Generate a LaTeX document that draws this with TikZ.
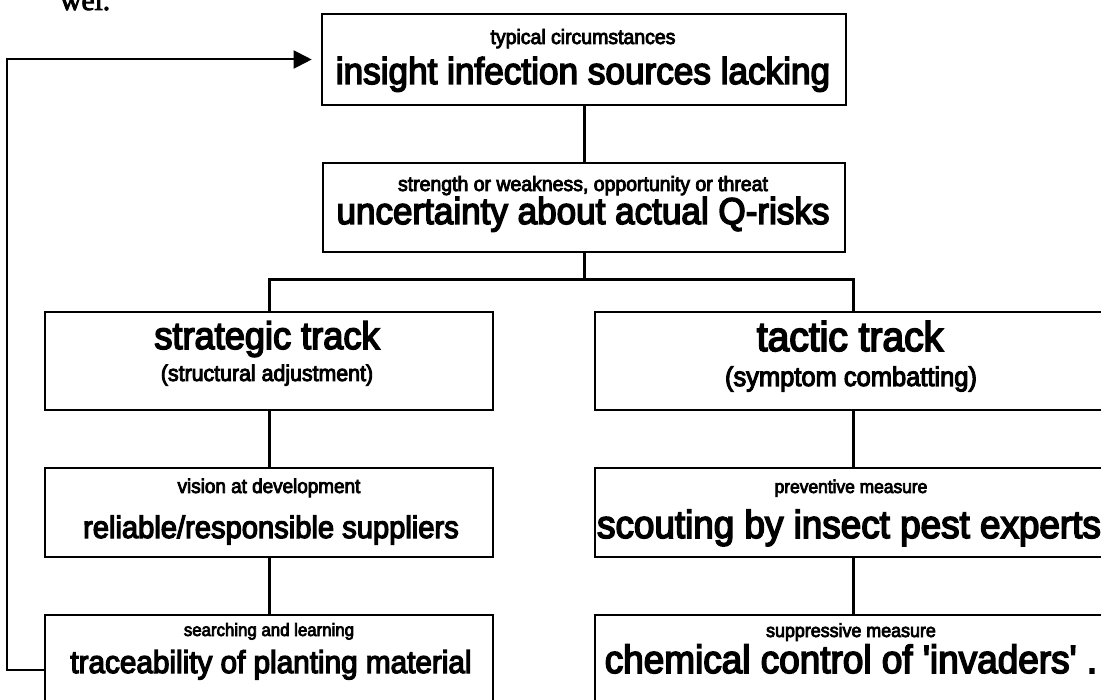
\documentclass[tikz,border=0pt]{standalone}
\usepackage{fontspec}
\setmainfont{Liberation Sans}
\newfontfamily\arfont{Liberation Sans}[FakeBold=4, FakeStretch=0.94]
\newfontfamily\serfont{Liberation Serif}[FakeBold=3]
\usetikzlibrary{arrows.meta}
\begin{document}
\begin{tikzpicture}[x=1pt,y=-1pt,
  box/.style={draw, line width=2.6pt, inner sep=0pt, minimum height=89pt},
  link/.style={line width=3pt},
  fb/.style={line width=2pt, -{Triangle[length=18pt,width=18pt]}, shorten >=9pt},
  txt/.style={anchor=base, inner sep=0pt, font=\arfont\fontsize{#1}{#1}\selectfont}]
\useasboundingbox (0,0) rectangle (1101,700);
\clip (0,0) rectangle (1101,700);
\fill[white] (0,0) rectangle (1101,700);
\node[anchor=base west, inner sep=0pt, font=\serfont\fontsize{29.5}{30}\selectfont] (wel) at (60,10) {wel.};

% boxes
\node[box, minimum width=524pt, minimum height=91pt] (top) at (584,59.5) {};
\node[box, minimum width=522pt] (mid) at (584,207.5) {};
\node[box, minimum width=448pt, minimum height=98pt] (strat) at (269,361) {};
\node[box, minimum width=516pt, minimum height=98pt] (tact) at (853,361) {};
\node[box, minimum width=448pt] (rel) at (269,512.5) {};
\node[box, minimum width=516pt] (scout) at (853,512.5) {};
\node[box, minimum width=448pt] (trace) at (269,659.5) {};
\node[box, minimum width=516pt] (chem) at (853,659.5) {};

% texts
\node[txt=20.7] (topS) at (583,44) {typical circumstances};
\node[txt=37.4] (topM) at (583,84) {insight infection sources lacking};
\node[txt=20.7] (midS) at (583,191) {strength or weakness, opportunity or threat};
\node[txt=37.3] (midM) at (583,224) {uncertainty about actual Q-risks};
\node[txt=38.5] (stratM) at (267,349) {strategic track};
\node[txt=22.7] (stratS) at (267,381) {(structural adjustment)};
\node[txt=41.5] (tactM) at (850,351) {tactic track};
\node[txt=27.1] (tactS) at (851,386) {(symptom combatting)};
\node[txt=20.1] (relS) at (269,493) {vision at development};
\node[txt=31] (relM) at (271,538) {reliable/responsible suppliers};
\node[txt=18.5] (scoutS) at (851,493) {preventive measure};
\node[txt=39.2] (scoutM) at (849,538) {scouting by insect pest experts};
\node[txt=17.9] (traceS) at (269,636) {searching and learning};
\node[txt=31.6] (traceM) at (271,673) {traceability of planting material};
\node[txt=19] (chemS) at (851,637) {suppressive measure};
\node[txt=39.3] (chemM) at (851,673) {chemical control of 'invaders' .};

% connectors
\draw[link] (top.south) -- (mid.north);
\coordinate (fork) at (584,280);
\draw[link] (mid.south) -- (fork);
\draw[link] (strat.north) |- (fork) -| (tact.north);
\draw[link] (strat.south) -- (rel.north);
\draw[link] (rel.south) -- (trace.north);
\draw[link] (tact.south) -- (scout.north);
\draw[link] (scout.south) -- (chem.north);
\coordinate (loop) at (7,670);
\draw[fb] (trace.west |- loop) -- (loop) |- (top.west);
\end{tikzpicture}
\end{document}
